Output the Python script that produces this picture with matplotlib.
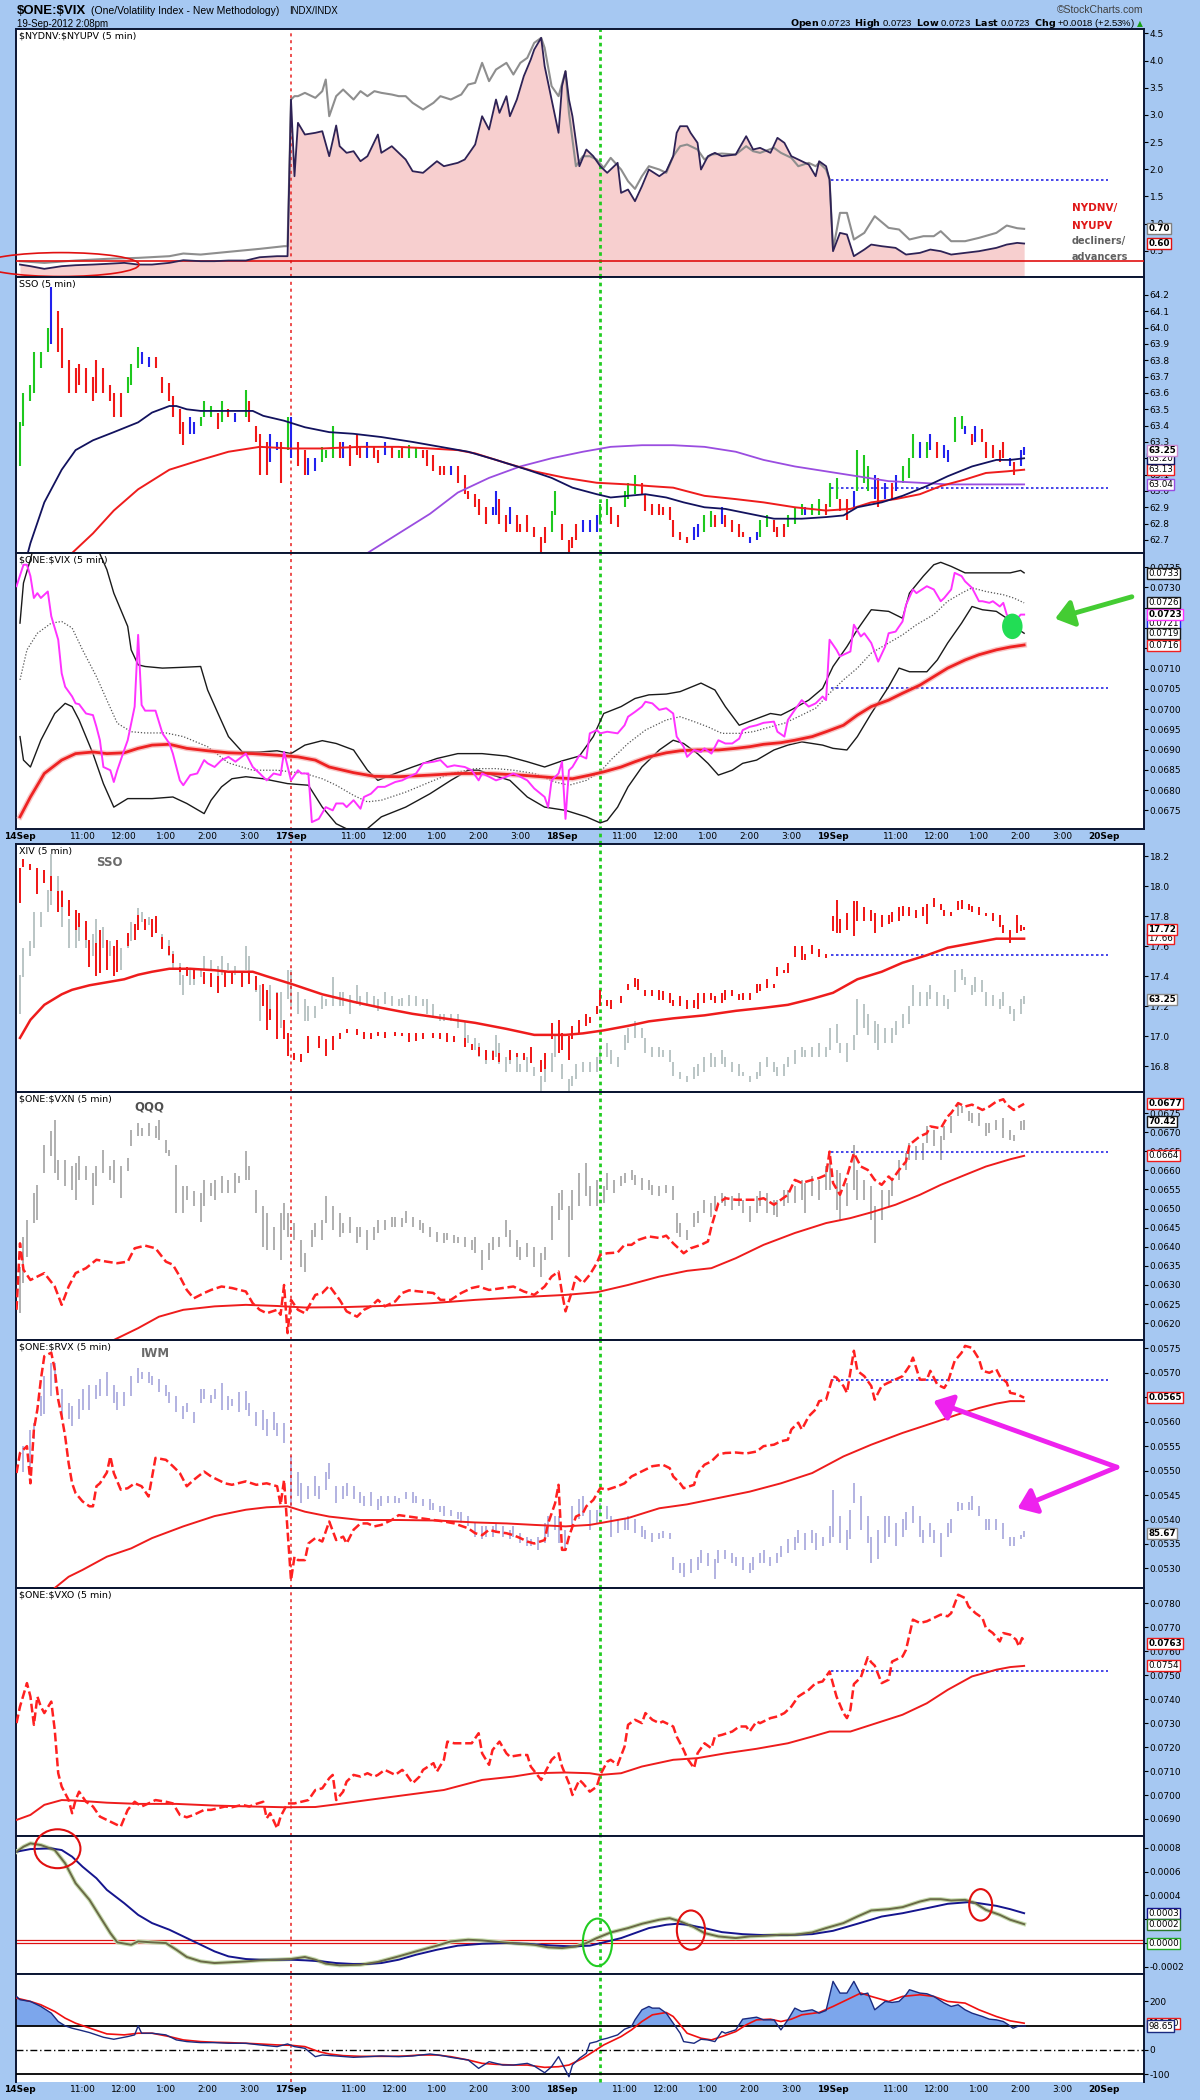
import numpy as np
import matplotlib
matplotlib.use("Agg")
import matplotlib.pyplot as plt
from matplotlib.patches import Ellipse
from matplotlib.ticker import FuncFormatter

plt.rcParams['font.family'] = ['DejaVu Sans']

# ---------------------------------------------------------------- data
# time = 5-minute bar index, 0 = 14-Sep 9:30, 78 bars per session
DAY_LABELS = ['14Sep', '17Sep', '18Sep', '19Sep', '20Sep']
TIME_LABELS = ['11:00', '12:00', '1:00', '2:00', '3:00']
TIME_OFFSETS = [18, 30, 42, 54, 66]
BARS_PER_DAY = 78
RED_MARK_T = 78      # 17-Sep open
GREEN_MARK_T = 167   # 18-Sep ~10:25
REF_START_T = 233.5  # 19-Sep open (blue reference lines)
REF_END_T = 313

# $NYDNV:$NYUPV (dark, filled) and grey overlay
DV_DARK = [(0,0.245),(3,0.215),(7,0.166),(12,0.215),(16,0.233),(21,0.245),(25,0.258),(30,0.276),(34,0.245),(38,0.245),(43,0.276),(47,0.325),(52,0.307),(56,0.307),(60,0.319),(65,0.319),(69,0.380),(74,0.399),(77,0.399),(78,3.282),(79,1.871),(80,2.853),(82,2.638),(85,2.669),(87,2.699),(89,2.239),(91,2.804),(92,2.423),(94,2.301),(96,2.331),(98,2.147),(100,2.239),(103,2.638),(104,2.301),(107,2.423),(109,2.301),(111,2.178),(113,1.963),(116,1.933),(120,2.147),(122,2.055),(126,2.117),(128,2.178),(131,2.454),(133,2.975),(135,2.730),(137,3.282),(138,3.037),(140,3.344),(141,2.975),(143,3.282),(145,3.712),(147,4.018),(148,4.202),(150,4.417),(151,3.896),(153,3.282),(155,2.669),(156,3.528),(157,3.804),(158,3.282),(159,2.975),(161,2.055),(163,2.362),(165,2.239),(167,2.055),(169,1.933),(172,2.117),(173,1.564),(175,1.626),(177,1.411),(179,1.687),(181,1.994),(184,1.871),(186,1.963),(188,2.239),(189,2.669),(190,2.791),(192,2.791),(193,2.669),(195,2.485),(196,1.994),(198,2.239),(200,2.301),(202,2.239),(206,2.270),(209,2.607),(211,2.362),(213,2.393),(216,2.301),(218,2.577),(220,2.485),(222,2.239),(224,2.178),(227,2.086),(229,1.871),(230,2.147),(232,2.055),(233,1.810),(234,0.491),(236,0.828),(238,0.798),(240,0.399),(243,0.521),(245,0.613),(248,0.583),(252,0.552),(255,0.429),(259,0.460),(262,0.521),(265,0.491),(268,0.429),(272,0.460),(276,0.491),(281,0.552),(284,0.613),(287,0.644),(289,0.632)]
DV_GREY = [(0,0.307),(7,0.276),(16,0.319),(25,0.350),(34,0.368),(43,0.399),(47,0.448),(52,0.429),(60,0.479),(69,0.534),(76,0.583),(77,0.583),(78,3.282),(79,3.344),(80,3.344),(82,3.405),(85,3.313),(87,3.436),(88,3.650),(89,2.975),(91,3.344),(93,3.466),(96,3.282),(98,3.436),(100,3.344),(102,3.436),(104,3.405),(107,3.374),(109,3.344),(111,3.344),(113,3.221),(116,3.098),(119,3.221),(121,3.344),(124,3.282),(127,3.374),(129,3.558),(131,3.589),(133,3.957),(135,3.620),(137,3.834),(140,3.957),(142,3.742),(144,3.957),(146,4.049),(148,4.325),(150,4.417),(151,4.233),(153,3.528),(155,3.344),(157,3.804),(158,3.037),(160,2.055),(162,2.239),(164,2.239),(166,2.178),(168,2.025),(170,2.209),(173,1.994),(175,1.779),(177,1.638),(179,1.871),(181,2.055),(184,1.994),(186,1.933),(188,2.239),(190,2.423),(192,2.454),(195,2.362),(197,2.178),(199,2.270),(202,2.288),(206,2.270),(209,2.423),(211,2.331),(213,2.301),(217,2.393),(219,2.301),(222,2.209),(224,2.055),(227,2.117),(229,2.055),(230,2.117),(232,1.994),(233,1.810),(234,0.521),(236,1.196),(238,1.196),(240,0.706),(243,0.828),(246,1.135),(250,0.920),(253,0.890),(256,0.706),(260,0.767),(263,0.767),(265,0.859),(268,0.675),(272,0.675),(276,0.736),(281,0.828),(284,0.963),(287,0.914),(289,0.902)]
DV_REF = 0.313
DV_LEVEL = 1.80

# SSO 5-min bars: (time, high, low, colour code)
SSO = [(0,63.42,63.15,'g'),(1,63.60,63.40,'g'),(3,63.65,63.55,'g'),(4,63.85,63.60,'g'),(6,63.85,63.75,'g'),(8,64.00,63.85,'g'),(9,64.25,63.90,'b'),(11,64.10,63.85,'r'),(12,64.00,63.75,'r'),(14,63.80,63.60,'r'),(16,63.75,63.60,'r'),(17,63.78,63.65,'r'),(19,63.75,63.60,'r'),(21,63.70,63.55,'r'),(22,63.80,63.60,'r'),(24,63.75,63.60,'r'),(26,63.65,63.55,'r'),(27,63.60,63.45,'r'),(29,63.60,63.45,'r'),(31,63.70,63.60,'g'),(32,63.78,63.65,'g'),(34,63.88,63.75,'g'),(35,63.85,63.78,'b'),(37,63.82,63.76,'b'),(39,63.82,63.75,'r'),(41,63.70,63.60,'r'),(43,63.66,63.55,'r'),(44,63.58,63.45,'r'),(46,63.50,63.35,'r'),(47,63.42,63.28,'r'),(49,63.45,63.35,'b'),(50,63.42,63.35,'b'),(52,63.45,63.40,'g'),(53,63.55,63.45,'g'),(55,63.52,63.45,'g'),(57,63.48,63.38,'r'),(58,63.55,63.42,'g'),(60,63.50,63.45,'r'),(62,63.48,63.42,'b'),(65,63.62,63.45,'g'),(66,63.55,63.42,'r'),(68,63.40,63.30,'r'),(69,63.35,63.10,'r'),(71,63.30,63.10,'r'),(72,63.35,63.18,'b'),(74,63.30,63.25,'b'),(75,63.30,63.05,'r'),(77,63.45,63.25,'g'),(78,63.45,63.20,'b'),(80,63.30,63.15,'r'),(82,63.25,63.10,'r'),(83,63.20,63.10,'b'),(85,63.20,63.12,'b'),(87,63.27,63.18,'g'),(88,63.25,63.20,'g'),(90,63.40,63.20,'g'),(92,63.30,63.20,'r'),(93,63.30,63.20,'b'),(95,63.28,63.15,'r'),(97,63.35,63.22,'r'),(98,63.27,63.20,'r'),(100,63.30,63.20,'b'),(102,63.27,63.20,'r'),(103,63.25,63.17,'r'),(105,63.30,63.22,'b'),(107,63.27,63.20,'r'),(109,63.25,63.20,'g'),(110,63.26,63.20,'r'),(112,63.28,63.20,'g'),(114,63.27,63.20,'g'),(116,63.25,63.20,'r'),(117,63.25,63.15,'r'),(119,63.22,63.12,'r'),(121,63.15,63.10,'r'),(122,63.15,63.10,'r'),(124,63.15,63.10,'b'),(126,63.15,63.05,'r'),(128,63.10,62.98,'r'),(129,63.00,62.95,'r'),(131,62.98,62.90,'r'),(132,62.95,62.85,'r'),(134,62.90,62.80,'r'),(136,62.90,62.85,'b'),(137,63.00,62.85,'b'),(138,62.95,62.80,'r'),(140,62.85,62.75,'r'),(141,62.90,62.80,'b'),(143,62.85,62.75,'r'),(144,62.80,62.75,'r'),(146,62.85,62.75,'r'),(148,62.78,62.72,'r'),(150,62.72,62.62,'r'),(151,62.78,62.68,'r'),(153,62.88,62.75,'g'),(154,63.00,62.85,'g'),(156,62.80,62.70,'r'),(158,62.70,62.62,'r'),(159,62.72,62.65,'r'),(160,62.80,62.70,'r'),(162,62.82,62.75,'b'),(164,62.82,62.75,'b'),(166,62.85,62.75,'b'),(167,62.92,62.80,'g'),(169,62.95,62.85,'g'),(170,62.90,62.80,'r'),(172,62.85,62.78,'r'),(174,63.00,62.90,'g'),(175,63.05,62.95,'g'),(177,63.10,62.98,'g'),(179,63.05,62.98,'r'),(180,62.98,62.88,'r'),(182,62.92,62.85,'r'),(184,62.92,62.85,'r'),(185,62.90,62.85,'r'),(187,62.90,62.82,'r'),(188,62.82,62.72,'r'),(190,62.75,62.70,'r'),(192,62.72,62.68,'r'),(194,62.78,62.70,'b'),(195,62.80,62.72,'b'),(197,62.85,62.75,'g'),(199,62.88,62.78,'g'),(200,62.85,62.78,'r'),(202,62.90,62.80,'b'),(203,62.85,62.78,'r'),(205,62.82,62.75,'r'),(207,62.80,62.72,'r'),(208,62.75,62.72,'r'),(210,62.72,62.68,'b'),(212,62.75,62.70,'b'),(213,62.82,62.72,'g'),(215,62.85,62.78,'g'),(217,62.82,62.75,'r'),(218,62.78,62.72,'r'),(220,62.80,62.72,'r'),(221,62.85,62.78,'g'),(223,62.90,62.80,'g'),(225,62.92,62.85,'g'),(226,62.90,62.85,'b'),(228,62.92,62.85,'g'),(230,62.95,62.85,'g'),(232,62.92,62.85,'r'),(233,63.05,62.90,'g'),(235,63.08,62.95,'g'),(236,62.95,62.88,'r'),(238,62.95,62.82,'r'),(240,63.00,62.90,'b'),(241,63.25,63.00,'g'),(243,63.22,63.05,'g'),(244,63.15,63.00,'g'),(246,63.10,62.95,'b'),(247,63.08,62.90,'r'),(249,63.05,62.95,'b'),(251,63.05,62.95,'r'),(252,63.10,63.00,'b'),(254,63.15,63.05,'g'),(256,63.20,63.08,'g'),(257,63.35,63.20,'g'),(259,63.30,63.20,'b'),(261,63.30,63.20,'g'),(262,63.35,63.25,'b'),(264,63.30,63.20,'r'),(266,63.28,63.20,'b'),(267,63.25,63.18,'b'),(269,63.45,63.30,'g'),(271,63.46,63.38,'g'),(272,63.40,63.35,'b'),(274,63.35,63.28,'r'),(275,63.40,63.30,'b'),(277,63.38,63.30,'r'),(278,63.30,63.20,'r'),(280,63.28,63.20,'r'),(282,63.25,63.18,'r'),(283,63.30,63.20,'r'),(285,63.20,63.15,'b'),(286,63.18,63.10,'r'),(288,63.25,63.15,'b'),(289,63.27,63.22,'b')]
SSO_MA_SHORT = [(2,62.60),(3,62.68),(7,62.93),(12,63.13),(16,63.25),(21,63.31),(27,63.36),(34,63.42),(38,63.48),(43,63.52),(45,63.52),(48,63.50),(52,63.49),(56,63.49),(60,63.49),(67,63.49),(70,63.46),(76,63.43),(82,63.39),(89,63.36),(96,63.35),(104,63.33),(113,63.30),(121,63.27),(129,63.24),(137,63.19),(146,63.13),(153,63.08),(159,63.02),(166,62.98),(170,62.96),(175,62.97),(180,62.98),(186,62.96),(191,62.93),(197,62.90),(203,62.89),(210,62.86),(217,62.83),(225,62.83),(232,62.84),(237,62.85),(241,62.90),(248,62.93),(254,62.97),(261,63.03),(267,63.09),(274,63.15),(281,63.19),(285,63.19),(289,63.20)]
SSO_MA_MID = [(15,62.62),(21,62.74),(27,62.88),(34,63.01),(43,63.13),(52,63.19),(60,63.24),(69,63.27),(78,63.26),(87,63.26),(98,63.27),(109,63.27),(118,63.26),(126,63.25),(131,63.23),(140,63.17),(148,63.12),(157,63.08),(166,63.05),(175,63.04),(181,63.03),(188,63.02),(197,62.97),(206,62.95),(214,62.93),(223,62.90),(232,62.88),(239,62.89),(245,62.93),(252,62.95),(259,62.98),(265,63.03),(272,63.07),(278,63.11),(284,63.12),(289,63.13)]
SSO_MA_LONG = [(100,62.62),(109,62.74),(118,62.86),(126,62.99),(135,63.08),(144,63.15),(153,63.20),(162,63.24),(170,63.27),(179,63.28),(188,63.28),(197,63.27),(206,63.24),(214,63.19),(223,63.15),(232,63.12),(241,63.09),(250,63.06),(259,63.05),(267,63.04),(276,63.04),(289,63.04)]
SSO_LEVEL = 63.02

# $ONE:$VIX, values in units of 0.0001
VIX_E4 = [(-1,730.3),(1,735.6),(2,735.6),(3,732.8),(4,727.4),(5,728.6),(6,727.4),(8,729.0),(9,722.9),(11,717.1),(12,708.8),(13,705.5),(15,703.1),(16,701.4),(17,701.2),(19,698.9),(21,698.5),(22,695.6),(23,692.3),(24,685.7),(26,684.9),(27,682.0),(28,684.9),(30,689.9),(31,692.3),(33,700.6),(34,718.3),(35,701.0),(36,699.6),(39,699.6),(41,694.0),(43,691.5),(44,689.0),(46,682.4),(47,681.2),(49,683.7),(51,684.1),(53,687.4),(54,686.6),(56,685.7),(58,687.4),(60,688.2),(62,687.0),(65,689.0),(67,685.7),(69,684.1),(71,682.4),(73,684.1),(75,683.7),(76,689.4),(78,682.4),(80,684.9),(81,684.1),(83,684.1),(84,672.1),(86,672.9),(88,675.8),(90,675.0),(91,676.7),(93,676.7),(94,675.8),(96,677.5),(98,675.4),(99,678.3),(101,679.1),(103,680.8),(105,680.8),(108,682.0),(110,682.4),(112,683.3),(114,684.1),(116,686.6),(119,687.0),(121,687.4),(123,685.7),(125,686.1),(128,685.7),(130,684.9),(132,682.4),(133,684.1),(135,683.3),(137,682.4),(140,683.3),(142,684.1),(144,683.3),(146,682.4),(148,680.4),(151,678.3),(152,675.8),(153,682.4),(155,684.1),(156,687.0),(157,672.9),(158,684.9),(159,685.7),(161,688.6),(163,687.8),(164,694.0),(166,694.8),(167,694.0),(169,694.4),(172,694.0),(174,696.0),(175,698.1),(177,699.3),(179,700.6),(180,701.8),(182,701.4),(184,699.8),(186,700.2),(188,698.9),(189,693.2),(191,690.7),(192,688.2),(194,689.9),(196,689.4),(197,690.3),(199,689.0),(201,692.3),(203,691.5),(205,691.5),(207,692.7),(208,694.8),(210,695.6),(212,696.0),(214,696.6),(217,696.9),(218,694.4),(220,693.2),(221,697.3),(223,699.8),(225,702.2),(227,700.6),(229,701.4),(231,703.1),(232,702.2),(233,717.1),(235,714.6),(236,713.0),(239,714.2),(240,720.8),(242,717.9),(243,718.7),(245,716.3),(247,711.7),(249,715.4),(250,718.7),(252,719.1),(254,721.6),(255,725.7),(257,729.5),(258,728.6),(261,730.3),(263,729.5),(265,726.6),(266,727.4),(268,729.5),(269,733.6),(271,732.8),(272,731.5),(274,729.9),(276,726.6),(277,726.6),(279,726.2),(280,726.6),(282,725.3),(283,726.2),(284,723.3),(286,721.2),(288,723.3),(289,723.3)]
VIX_BB_UP_E4 = [(0,721.2),(1,731.1),(3,736.9),(4,740.2),(7,741.8),(16,741.8),(22,740.2),(25,734.4),(27,728.6),(31,720.4),(32,714.6),(34,710.9),(36,710.5),(41,710.1),(47,710.3),(52,710.5),(54,704.7),(57,698.9),(60,693.2),(64,689.4),(69,689.4),(74,689.7),(78,689.0),(82,691.1),(87,692.2),(91,691.5),(96,689.9),(100,684.9),(103,682.4),(108,684.1),(113,685.7),(120,687.8),(126,689.0),(133,689.0),(140,688.4),(146,687.0),(151,685.7),(156,687.2),(161,688.4),(165,693.2),(168,698.9),(173,700.6),(177,702.6),(181,703.5),(186,703.7),(190,704.3),(194,705.7),(196,706.4),(200,704.7),(203,700.6),(207,696.0),(211,697.3),(216,698.9),(219,698.5),(222,699.8),(227,702.2),(231,705.1),(234,710.5),(238,715.4),(241,719.6),(245,724.5),(250,724.1),(254,722.4),(256,728.6),(260,732.8),(263,735.6),(265,736.2),(268,735.2),(272,733.6),(276,733.6),(281,733.6),(285,733.6),(288,734.2),(289,733.6)]
VIX_BB_LO_E4 = [(0,693.2),(1,687.4),(3,685.7),(6,692.3),(10,698.9),(13,701.4),(15,700.6),(17,697.3),(21,689.0),(24,681.6),(27,675.8),(31,677.9),(34,677.9),(38,677.9),(44,678.3),(48,676.7),(53,674.2),(55,677.5),(58,680.8),(61,682.8),(65,683.3),(70,682.8),(77,681.6),(83,681.2),(87,675.8),(91,671.7),(96,669.6),(100,670.5),(104,673.4),(111,675.8),(118,679.1),(124,682.4),(129,684.9),(132,684.9),(136,683.7),(141,682.4),(146,678.3),(151,675.8),(157,675.0),(163,673.4),(167,671.9),(169,672.5),(172,675.8),(175,680.8),(179,685.7),(184,689.9),(188,692.3),(191,691.5),(195,689.0),(198,686.6),(201,683.7),(205,684.9),(208,686.6),(212,687.4),(217,689.9),(221,691.1),(225,691.9),(231,691.1),(234,690.3),(238,689.9),(241,693.2),(245,698.9),(250,705.5),(253,710.1),(256,709.2),(261,709.2),(264,712.1),(267,716.3),(271,721.2),(274,725.3),(277,724.5),(281,724.1),(284,722.4),(286,720.4),(289,718.7)]
VIX_BB_MID_E4 = [(0,707.2),(2,714.6),(5,718.7),(9,721.2),(12,721.6),(15,720.0),(18,714.6),(22,708.0),(25,702.2),(28,696.5),(32,694.4),(36,694.1),(42,694.1),(47,693.2),(54,690.7),(60,686.7),(67,684.9),(74,684.9),(78,684.5),(82,684.1),(87,682.8),(91,681.2),(96,678.7),(100,677.1),(104,677.5),(111,679.5),(118,682.0),(124,684.1),(131,685.3),(137,685.3),(142,684.9),(148,684.1),(154,682.0),(158,681.2),(163,682.4),(167,684.5),(170,687.4),(175,691.5),(180,694.8),(186,697.3),(190,698.1),(194,696.9),(198,695.6),(202,694.0),(207,694.0),(211,694.4),(216,695.6),(220,696.5),(224,698.1),(229,700.2),(233,703.9),(237,707.2),(241,710.1),(245,713.8),(250,716.3),(254,718.3),(258,720.8),(263,723.3),(267,726.6),(271,728.6),(274,729.9),(278,729.0),(283,728.2),(286,727.4),(289,726.2)]
VIX_MA_E4 = [(0,673.4),(3,678.3),(7,684.1),(12,687.4),(16,689.0),(21,689.4),(25,689.0),(30,689.2),(34,690.3),(38,691.1),(43,691.3),(48,690.3),(54,689.7),(60,689.2),(67,689.0),(74,688.6),(80,688.2),(85,687.4),(89,685.7),(96,684.3),(102,683.4),(109,683.3),(118,683.7),(126,684.1),(135,684.1),(144,683.7),(153,683.1),(159,682.8),(164,683.7),(168,684.5),(173,685.7),(177,687.0),(181,688.2),(186,689.2),(190,689.7),(195,689.9),(201,689.9),(206,690.3),(210,690.7),(214,691.3),(219,691.7),(223,692.3),(228,693.2),(232,694.4),(237,696.0),(241,698.5),(245,700.6),(250,702.2),(254,703.9),(259,705.9),(263,708.0),(267,710.1),(272,712.1),(276,713.4),(281,714.6),(285,715.3),(289,715.8)]
VIX_LEVEL = 0.07052

# XIV 5-min bars (time, high, low)
XIV = [(0,18.12,17.89),(1,18.18,18.13),(3,18.15,18.11),(5,18.12,17.95),(7,18.11,18.02),(9,18.07,17.97),(11,17.97,17.83),(12,17.97,17.86),(14,17.91,17.80),(16,17.84,17.71),(17,17.82,17.73),(19,17.77,17.64),(20,17.64,17.46),(22,17.62,17.40),(23,17.71,17.42),(25,17.64,17.44),(27,17.60,17.40),(28,17.64,17.43),(31,17.69,17.60),(33,17.75,17.64),(34,17.81,17.71),(36,17.78,17.71),(38,17.78,17.66),(39,17.80,17.69),(41,17.66,17.58),(43,17.60,17.54),(44,17.55,17.49),(46,17.46,17.43),(48,17.46,17.40),(50,17.44,17.38),(53,17.43,17.35),(55,17.42,17.33),(57,17.40,17.29),(59,17.43,17.33),(61,17.42,17.35),(64,17.43,17.33),(66,17.43,17.35),(68,17.40,17.31),(70,17.35,17.20),(71,17.31,17.04),(72,17.18,17.11),(74,17.29,16.98),(76,17.11,16.98),(77,17.02,16.87),(79,16.89,16.84),(81,16.88,16.83),(83,17.00,16.89),(86,17.00,16.92),(88,16.98,16.87),(90,17.00,16.91),(92,17.02,16.98),(94,17.05,17.02),(97,17.05,17.01),(99,17.03,16.98),(101,17.02,16.98),(103,17.03,17.00),(105,17.03,16.99),(108,17.03,17.00),(110,17.02,17.00),(112,17.02,16.96),(114,17.02,16.97),(116,17.02,16.98),(119,17.02,16.99),(121,17.02,16.98),(123,17.02,16.96),(125,17.00,16.96),(128,16.99,16.93),(130,16.95,16.91),(132,16.93,16.87),(134,16.91,16.84),(136,16.90,16.84),(138,16.89,16.83),(141,16.91,16.84),(143,16.89,16.86),(145,16.89,16.84),(147,16.93,16.82),(150,16.84,16.76),(151,16.89,16.78),(153,17.09,16.98),(155,17.11,16.89),(156,17.02,16.91),(158,17.00,16.84),(159,17.07,16.98),(161,17.11,17.02),(163,17.15,17.07),(164,17.13,17.09),(166,17.20,17.15),(167,17.31,17.20),(169,17.24,17.20),(170,17.24,17.18),(173,17.27,17.22),(175,17.35,17.31),(177,17.39,17.33),(178,17.38,17.31),(180,17.31,17.27),(182,17.31,17.27),(184,17.31,17.24),(185,17.30,17.24),(187,17.29,17.22),(188,17.24,17.20),(190,17.27,17.20),(192,17.24,17.18),(194,17.24,17.19),(195,17.29,17.18),(197,17.29,17.22),(199,17.29,17.24),(200,17.27,17.22),(202,17.29,17.22),(203,17.31,17.24),(205,17.31,17.27),(207,17.28,17.24),(208,17.29,17.24),(210,17.29,17.24),(212,17.35,17.29),(213,17.35,17.30),(215,17.38,17.32),(217,17.35,17.32),(218,17.46,17.40),(220,17.44,17.42),(221,17.49,17.42),(223,17.60,17.53),(225,17.60,17.51),(226,17.55,17.51),(228,17.61,17.55),(230,17.58,17.53),(232,17.55,17.52),(234,17.80,17.70),(235,17.91,17.69),(236,17.78,17.69),(238,17.82,17.71),(240,17.90,17.67),(241,17.90,17.77),(243,17.86,17.77),(245,17.84,17.77),(246,17.82,17.69),(248,17.81,17.73),(250,17.81,17.75),(251,17.83,17.76),(253,17.86,17.77),(254,17.87,17.80),(256,17.86,17.80),(258,17.84,17.79),(260,17.86,17.80),(261,17.88,17.75),(263,17.92,17.86),(265,17.88,17.84),(266,17.84,17.80),(268,17.83,17.80),(270,17.90,17.84),(271,17.91,17.85),(273,17.88,17.84),(274,17.87,17.83),(276,17.86,17.81),(278,17.82,17.80),(280,17.82,17.77),(282,17.81,17.73),(283,17.74,17.69),(285,17.71,17.62),(287,17.81,17.69),(288,17.74,17.70),(289,17.73,17.71)]
XIV_MA = [(0,16.99),(3,17.11),(7,17.21),(12,17.28),(15,17.31),(20,17.34),(25,17.36),(30,17.38),(34,17.41),(38,17.43),(43,17.45),(49,17.45),(56,17.44),(60,17.43),(67,17.43),(71,17.40),(78,17.35),(87,17.28),(96,17.23),(104,17.19),(113,17.15),(122,17.12),(131,17.09),(140,17.05),(148,17.01),(157,17.01),(162,17.02),(168,17.04),(175,17.07),(181,17.10),(188,17.12),(197,17.14),(206,17.17),(214,17.19),(221,17.21),(228,17.25),(234,17.29),(241,17.38),(248,17.43),(254,17.49),(261,17.54),(267,17.59),(274,17.62),(281,17.65),(285,17.65),(289,17.65)]
XIV_LEVEL = 17.54

# $ONE:$VXN (units of 0.0001) and QQQ overlay bars
VXN_E4 = [(-1,623.5),(0,640.9),(1,634.0),(3,631.3),(5,632.2),(7,633.1),(10,629.6),(12,624.8),(14,629.6),(16,633.1),(19,634.4),(22,636.6),(25,636.1),(28,635.7),(31,636.1),(33,639.6),(36,640.3),(39,639.6),(42,636.1),(44,635.3),(46,632.2),(48,628.7),(50,626.5),(53,627.9),(55,628.7),(58,629.6),(61,629.2),(65,628.3),(67,625.2),(69,623.5),(71,622.6),(74,623.5),(75,622.2),(76,630.0),(77,617.4),(78,626.1),(80,623.5),(82,622.6),(85,627.4),(87,627.9),(89,629.8),(92,626.1),(94,623.1),(97,621.7),(99,623.5),(101,624.4),(103,626.1),(105,624.4),(108,625.7),(110,627.9),(112,628.6),(115,628.3),(119,627.9),(121,626.1),(124,626.1),(127,627.9),(130,629.2),(132,629.6),(135,628.7),(139,629.2),(142,629.6),(145,628.3),(148,627.4),(151,629.6),(153,632.2),(155,633.5),(156,627.9),(157,623.1),(159,628.7),(160,632.2),(162,630.5),(164,632.7),(166,635.7),(167,637.9),(169,638.3),(172,638.5),(174,640.5),(176,640.5),(178,641.8),(181,642.7),(184,642.3),(186,642.9),(188,640.9),(190,639.2),(191,638.3),(193,639.6),(196,640.5),(198,641.4),(199,645.3),(201,651.4),(203,652.7),(206,652.3),(209,652.3),(212,652.3),(214,652.7),(217,651.0),(219,652.3),(221,653.6),(223,657.5),(225,656.7),(228,657.5),(230,658.0),(232,658.8),(233,664.9),(234,656.7),(236,653.6),(238,658.4),(240,664.5),(242,661.0),(244,660.1),(246,657.5),(248,656.2),(250,658.4),(251,657.5),(253,660.1),(255,662.3),(256,666.7),(259,668.9),(261,669.7),(262,671.5),(265,671.0),(267,674.1),(268,675.0),(270,677.6),(272,676.7),(274,677.2),(277,675.8),(279,676.7),(281,678.0),(283,678.6),(284,677.2),(286,675.8),(288,676.9),(289,677.4)]
VXN_MA_E4 = [(27,615.6),(34,618.7),(40,621.7),(47,623.5),(56,624.4),(65,624.8),(74,624.5),(82,624.1),(93,624.2),(104,624.5),(118,625.2),(131,626.1),(144,626.8),(157,627.4),(166,628.1),(175,630.0),(184,632.2),(192,633.7),(199,634.4),(206,637.0),(214,640.5),(223,643.6),(232,646.2),(239,647.5),(245,649.0),(252,651.0),(259,653.6),(265,656.2),(272,658.8),(278,661.0),(285,662.9),(289,663.8)]
VXN_LEVEL = 0.06649
QQQ = [(0,69.55,69.27),(1,69.73,69.45),(2,69.83,69.61),(4,69.99,69.81),(5,70.04,69.83),(7,70.28,70.11),(9,70.36,70.21),(10,70.43,70.11),(11,70.19,70.07),(13,70.19,70.03),(15,70.15,70.01),(16,70.17,69.95),(17,70.21,70.07),(19,70.15,70.07),(21,70.11,69.92),(22,70.15,70.03),(24,70.25,70.11),(26,70.15,70.07),(27,70.19,70.05),(29,70.15,69.96),(31,70.20,70.12),(32,70.37,70.27),(34,70.41,70.33),(35,70.38,70.33),(37,70.41,70.33),(39,70.39,70.32),(40,70.43,70.31),(42,70.31,70.23),(43,70.25,70.21),(45,70.16,69.87),(47,70.03,69.87),(48,70.03,69.95),(50,70.00,69.91),(52,69.99,69.82),(53,70.07,69.91),(55,70.05,69.97),(56,70.07,69.95),(58,70.09,69.99),(60,70.07,69.99),(62,70.11,69.99),(63,70.09,70.05),(65,70.24,70.07),(66,70.15,70.07),(68,70.01,69.87),(70,69.91,69.67),(71,69.87,69.65),(73,69.79,69.65),(75,69.87,69.59),(76,69.93,69.77),(77,69.87,69.73),(79,69.81,69.71),(81,69.71,69.55),(82,69.63,69.52),(84,69.77,69.67),(85,69.81,69.73),(87,69.83,69.71),(88,69.97,69.81),(90,69.91,69.77),(92,69.87,69.73),(93,69.81,69.75),(95,69.85,69.75),(97,69.79,69.69),(98,69.79,69.73),(100,69.77,69.65),(102,69.79,69.71),(103,69.83,69.75),(105,69.83,69.77),(107,69.85,69.79),(108,69.85,69.79),(110,69.84,69.79),(111,69.88,69.81),(113,69.85,69.79),(115,69.83,69.77),(116,69.81,69.75),(118,69.79,69.73),(120,69.76,69.70),(122,69.75,69.69),(123,69.75,69.71),(125,69.74,69.69),(126,69.73,69.69),(128,69.73,69.67),(130,69.71,69.65),(131,69.73,69.63),(133,69.65,69.53),(135,69.69,69.59),(136,69.73,69.65),(138,69.73,69.67),(140,69.83,69.73),(141,69.77,69.67),(143,69.71,69.61),(144,69.67,69.59),(146,69.69,69.61),(148,69.67,69.55),(150,69.63,69.49),(151,69.67,69.59),(153,69.91,69.71),(155,69.99,69.83),(156,70.01,69.89),(158,69.91,69.61),(159,70.01,69.83),(161,70.11,69.91),(163,70.17,69.97),(164,70.03,69.91),(166,70.07,69.91),(168,70.03,69.93),(169,70.11,70.01),(171,70.07,69.99),(173,70.09,70.03),(174,70.11,70.05),(176,70.13,70.07),(177,70.10,70.04),(179,70.08,70.01),(181,70.07,70.01),(182,70.04,69.98),(184,70.03,69.97),(186,70.04,69.99),(188,70.03,69.95),(189,69.87,69.75),(190,69.81,69.73),(192,69.77,69.71),(194,69.87,69.79),(195,69.88,69.81),(197,69.95,69.87),(199,69.93,69.85),(200,69.97,69.89),(202,69.99,69.93),(203,69.97,69.91),(205,69.97,69.89),(207,69.99,69.91),(208,69.95,69.87),(210,69.91,69.82),(212,69.97,69.87),(213,70.00,69.91),(215,69.99,69.87),(217,69.95,69.86),(218,69.95,69.85),(220,70.01,69.91),(221,70.01,69.93),(223,70.03,69.93),(225,70.07,69.95),(226,70.05,69.87),(228,70.09,69.97),(230,70.07,69.95),(232,70.15,70.01),(233,70.21,70.01),(235,70.13,69.89),(236,70.11,69.83),(238,70.05,69.91),(240,70.28,70.01),(241,70.13,69.95),(243,70.07,69.95),(245,70.03,69.83),(246,69.91,69.69),(248,70.01,69.83),(250,70.01,69.91),(251,70.07,69.97),(253,70.19,70.07),(255,70.23,70.13),(256,70.29,70.19),(258,70.27,70.19),(260,70.29,70.19),(261,70.39,70.29),(263,70.37,70.27),(265,70.33,70.19),(266,70.39,70.31),(268,70.45,70.35),(270,70.53,70.45),(271,70.51,70.47),(273,70.48,70.42),(274,70.47,70.41),(276,70.47,70.39),(278,70.41,70.33),(279,70.41,70.35),(281,70.43,70.37),(283,70.44,70.32),(285,70.37,70.31),(286,70.34,70.30),(288,70.42,70.37),(289,70.43,70.37)]

# $ONE:$RVX (units of 0.0001) and IWM overlay bars
RVX_E4 = [(-1,549.5),(0,553.6),(2,555.0),(3,547.4),(4,558.4),(5,562.5),(6,568.6),(7,573.4),(9,574.1),(10,570.7),(11,564.5),(12,561.1),(13,557.0),(14,551.5),(15,547.4),(16,545.4),(18,543.7),(20,542.7),(21,542.7),(22,546.8),(23,547.4),(25,549.6),(26,552.9),(27,549.5),(29,546.1),(31,546.4),(33,547.4),(35,546.8),(37,544.7),(39,552.6),(42,552.2),(44,550.9),(46,549.5),(48,546.8),(50,548.1),(53,549.8),(55,548.8),(57,548.1),(59,547.4),(61,547.1),(65,547.8),(68,547.1),(71,547.4),(74,546.8),(75,543.0),(76,548.1),(78,527.6),(79,532.4),(80,531.7),(82,531.7),(83,535.1),(85,536.2),(87,535.5),(89,539.6),(91,535.8),(93,536.5),(94,535.1),(96,537.9),(98,539.2),(100,539.2),(102,538.6),(104,538.9),(107,539.9),(109,540.9),(112,540.6),(115,540.3),(119,539.9),(122,539.6),(125,539.2),(129,538.2),(131,537.2),(133,536.8),(135,537.9),(137,537.5),(140,537.2),(142,536.8),(144,536.2),(146,535.5),(148,535.1),(151,535.8),(152,539.2),(154,543.3),(155,547.1),(156,533.8),(157,533.8),(158,536.5),(160,540.6),(162,541.3),(163,542.7),(165,544.0),(167,546.4),(169,546.1),(172,546.8),(174,547.4),(176,548.8),(178,549.5),(180,550.2),(182,550.9),(185,551.2),(187,550.5),(188,548.8),(190,547.4),(191,546.4),(194,547.1),(195,549.5),(197,551.2),(199,551.9),(201,553.3),(203,553.6),(206,553.7),(209,553.5),(212,553.9),(214,555.0),(217,555.3),(219,556.0),(221,556.3),(222,558.4),(224,559.8),(225,558.4),(227,561.1),(229,562.5),(230,564.2),(232,564.5),(234,569.3),(235,569.0),(237,567.3),(238,565.9),(240,574.5),(241,570.4),(243,569.3),(245,567.3),(246,564.5),(248,567.3),(250,568.0),(251,568.3),(254,569.3),(256,571.4),(257,573.1),(259,568.6),(261,568.6),(262,570.4),(264,567.6),(266,566.9),(267,568.0),(269,572.4),(271,574.1),(272,575.5),(274,575.1),(276,572.8),(277,570.4),(279,570.0),(281,570.7),(282,569.3),(284,568.0),(285,565.9),(287,565.6),(289,564.9)]
RVX_MA_E4 = [(10,526.0),(14,528.3),(18,529.7),(25,532.4),(32,534.1),(38,536.2),(47,538.6),(56,540.7),(65,542.0),(71,542.5),(77,542.7),(82,541.6),(89,540.6),(98,539.9),(109,539.9),(120,539.8),(131,539.4),(140,539.2),(148,538.9),(157,538.6),(164,538.9),(168,539.4),(175,540.3),(184,542.3),(192,543.1),(201,544.4),(210,545.7),(219,547.4),(228,549.5),(237,552.9),(245,555.3),(254,557.7),(263,559.8),(270,561.5),(276,562.8),(281,563.7),(285,564.2),(289,564.2)]
RVX_LEVEL = 0.05686
IWM = [(1,86.33,86.13),(3,86.45,86.15),(4,86.50,86.38),(6,86.70,86.55),(7,86.85,86.57),(9,86.95,86.70),(10,86.95,86.80),(12,86.75,86.55),(14,86.65,86.53),(15,86.63,86.48),(17,86.68,86.53),(18,86.75,86.60),(20,86.78,86.60),(22,86.78,86.68),(23,86.83,86.70),(25,86.88,86.70),(27,86.78,86.65),(28,86.73,86.60),(30,86.73,86.63),(32,86.85,86.70),(34,86.91,86.80),(35,86.88,86.83),(37,86.88,86.80),(38,86.85,86.78),(40,86.83,86.73),(42,86.78,86.70),(43,86.73,86.65),(45,86.70,86.58),(47,86.63,86.53),(48,86.65,86.58),(50,86.58,86.50),(52,86.75,86.65),(53,86.75,86.68),(55,86.71,86.65),(56,86.75,86.68),(58,86.80,86.60),(60,86.70,86.60),(61,86.68,86.63),(63,86.73,86.58),(65,86.74,86.60),(66,86.65,86.55),(68,86.58,86.48),(70,86.60,86.45),(71,86.53,86.40),(73,86.58,86.45),(74,86.50,86.40),(76,86.50,86.35),(78,86.25,85.88),(80,86.13,85.95),(81,86.05,85.90),(83,86.03,85.93),(85,86.10,85.95),(86,86.03,85.93),(88,86.13,86.00),(89,86.20,86.08),(91,86.03,85.90),(93,86.03,85.93),(94,86.05,85.95),(96,86.03,85.93),(98,85.98,85.90),(99,85.95,85.88),(101,85.98,85.88),(103,85.93,85.85),(104,85.95,85.88),(106,85.95,85.90),(108,85.95,85.90),(109,85.94,85.90),(111,85.98,85.93),(113,85.98,85.90),(114,85.95,85.90),(116,85.93,85.88),(118,85.93,85.85),(119,85.90,85.85),(121,85.88,85.83),(122,85.88,85.80),(124,85.85,85.80),(126,85.83,85.78),(127,85.83,85.75),(129,85.80,85.73),(131,85.75,85.65),(133,85.73,85.63),(134,85.73,85.65),(136,85.73,85.65),(137,85.75,85.68),(139,85.73,85.65),(141,85.70,85.63),(142,85.73,85.65),(144,85.68,85.60),(146,85.65,85.58),(147,85.63,85.58),(149,85.65,85.55),(151,85.75,85.60),(152,85.80,85.65),(154,85.80,85.70),(155,85.80,85.60),(157,85.70,85.55),(159,85.88,85.70),(161,85.93,85.78),(162,85.95,85.80),(164,85.85,85.70),(166,85.85,85.75),(167,85.90,85.80),(169,85.88,85.78),(170,85.80,85.65),(172,85.78,85.68),(174,85.78,85.70),(175,85.80,85.70),(177,85.78,85.68),(179,85.73,85.65),(180,85.70,85.63),(182,85.68,85.61),(184,85.68,85.63),(185,85.69,85.64),(187,85.68,85.63),(188,85.50,85.40),(190,85.45,85.38),(191,85.45,85.35),(193,85.48,85.38),(195,85.50,85.40),(196,85.55,85.45),(198,85.53,85.43),(200,85.48,85.33),(201,85.55,85.45),(203,85.55,85.48),(205,85.53,85.45),(206,85.50,85.43),(208,85.50,85.40),(210,85.45,85.38),(211,85.50,85.40),(213,85.53,85.45),(214,85.55,85.45),(216,85.50,85.43),(218,85.53,85.45),(219,85.58,85.50),(221,85.63,85.53),(223,85.65,85.55),(224,85.70,85.60),(226,85.68,85.55),(228,85.70,85.60),(229,85.68,85.55),(231,85.65,85.58),(233,85.73,85.60),(234,86.00,85.65),(236,85.80,85.60),(238,85.70,85.55),(239,85.85,85.63),(240,86.05,85.90),(242,85.95,85.70),(244,85.80,85.60),(245,85.65,85.45),(247,85.70,85.48),(249,85.80,85.60),(250,85.80,85.65),(252,85.75,85.58),(254,85.78,85.65),(255,85.83,85.70),(257,85.88,85.75),(259,85.80,85.65),(260,85.70,85.60),(262,85.75,85.65),(263,85.70,85.60),(265,85.68,85.50),(267,85.75,85.65),(268,85.78,85.68),(270,85.91,85.84),(271,85.90,85.85),(273,85.91,85.85),(274,85.95,85.85),(276,85.88,85.80),(278,85.78,85.70),(279,85.78,85.70),(281,85.78,85.70),(283,85.75,85.63),(285,85.65,85.58),(286,85.65,85.58),(288,85.66,85.63),(289,85.69,85.65)]

# $ONE:$VXO (units of 0.0001)
VXO_E4 = [(-1,730.0),(0,736.9),(2,746.7),(3,741.1),(4,729.3),(5,741.1),(6,736.9),(7,734.2),(9,739.0),(10,727.2),(11,709.1),(12,703.5),(14,697.9),(15,692.4),(16,697.9),(17,701.4),(19,697.2),(21,695.2),(23,691.0),(25,689.6),(27,688.2),(29,686.8),(31,693.8),(33,697.2),(35,695.2),(37,696.5),(39,697.9),(42,697.2),(44,696.5),(46,691.7),(48,690.7),(50,691.7),(53,693.8),(55,693.8),(57,694.5),(59,695.2),(61,694.9),(64,695.9),(66,695.2),(68,696.3),(70,697.2),(71,690.3),(72,692.4),(74,686.1),(75,691.0),(77,696.5),(79,696.5),(81,697.2),(83,697.9),(85,702.1),(87,702.8),(89,707.0),(90,708.4),(91,697.9),(93,701.4),(94,705.6),(96,708.4),(98,707.7),(100,709.1),(102,707.7),(103,708.4),(105,710.5),(108,708.4),(110,710.5),(111,709.1),(113,704.9),(115,707.7),(116,710.5),(119,713.3),(120,709.8),(122,714.7),(123,722.3),(125,721.6),(128,721.6),(130,721.6),(132,725.8),(133,717.4),(135,712.6),(136,718.8),(138,722.3),(140,717.4),(141,716.0),(144,716.7),(146,716.7),(147,711.9),(150,706.3),(151,709.1),(153,714.7),(155,717.4),(156,711.9),(158,704.9),(159,700.0),(161,706.3),(162,704.9),(164,701.4),(166,703.5),(167,708.4),(169,713.9),(170,714.7),(172,712.6),(174,720.2),(175,729.3),(177,731.4),(179,730.0),(180,734.2),(182,731.4),(184,730.0),(185,730.7),(188,728.6),(189,724.4),(191,718.8),(192,715.4),(194,711.2),(195,717.4),(197,721.6),(199,719.5),(200,724.4),(202,725.1),(205,726.5),(207,728.6),(209,728.6),(210,726.5),(212,730.7),(213,730.0),(216,732.1),(218,732.8),(220,734.2),(222,736.9),(224,741.1),(227,743.9),(229,746.7),(231,747.4),(233,751.6),(235,741.1),(237,734.2),(238,732.1),(239,735.6),(240,746.3),(242,749.1),(244,757.5),(245,755.4),(246,754.0),(248,746.7),(250,748.1),(251,755.7),(254,757.8),(255,760.6),(257,773.2),(259,771.8),(261,772.5),(263,773.9),(265,775.3),(267,774.6),(268,775.9),(270,783.6),(272,782.2),(273,778.7),(275,775.9),(277,773.9),(278,769.7),(280,767.6),(282,764.1),(283,767.6),(285,766.9),(286.7,764.8),(287.5,762.0),(288.4,765.5),(289.3,763.4)]
VXO_MA_E4 = [(-1,689.6),(3,691.7),(7,695.9),(12,697.9),(16,697.7),(25,696.8),(34,696.3),(45,696.3),(56,695.6),(67,695.2),(76,694.9),(85,695.0),(91,696.1),(100,697.9),(111,700.0),(122,702.1),(133,706.3),(142,707.7),(148,709.1),(157,709.4),(164,709.1),(167,708.4),(173,709.1),(179,711.9),(188,714.7),(195,715.4),(203,717.4),(212,719.3),(221,721.6),(228,724.4),(233,726.5),(239,726.5),(245,729.3),(254,733.5),(261,738.3),(267,743.9),(274,749.5),(281,752.3),(285,753.4),(289,753.9)]
VXO_LEVEL = 0.07518

# oscillator pair (units of 0.0001)
OSC_FAST_E4 = [(-1,7.68),(1,8.10),(3,8.38),(6,8.24),(10,7.82),(13,6.70),(16,5.03),(20,3.63),(23,2.23),(26,0.84),(28,0.06),(32,-0.14),(34,0.14),(38,0.06),(42,0.0),(45,-0.56),(48,-1.17),(52,-1.54),(56,-1.68),(60,-1.62),(65,-1.54),(69,-1.45),(74,-1.40),(78,-1.34),(82,-1.17),(85,-1.40),(88,-1.73),(92,-1.87),(98,-1.82),(103,-1.59),(109,-1.12),(114,-0.70),(120,-0.22),(124,0.14),(129,0.28),(133,0.22),(139,0.06),(144,-0.06),(148,-0.14),(152,-0.36),(156,-0.42),(160,-0.28),(163,0.0),(166,0.42),(170,0.89),(175,1.26),(179,1.62),(184,1.96),(187,2.09),(190,1.82),(194,1.34),(197,0.84),(201,0.56),(206,0.42),(210,0.56),(214,0.61),(219,0.70),(223,0.70),(228,0.89),(232,1.26),(237,1.68),(241,2.23),(245,2.74),(250,2.85),(254,3.02),(259,3.49),(262,3.69),(265,3.69),(268,3.58),(272,3.63),(275,3.35),(278,2.79),(282,2.37),(285,1.96),(289,1.59)]
OSC_SLOW_E4 = [(-1,7.68),(3,7.90),(9,7.96),(12,7.82),(15,7.26),(18,6.42),(22,5.45),(25,4.47),(30,3.35),(34,2.37),(38,1.68),(43,1.12),(47,0.56),(52,-0.14),(56,-0.70),(60,-1.12),(65,-1.34),(69,-1.40),(74,-1.40),(78,-1.40),(82,-1.45),(87,-1.54),(91,-1.68),(96,-1.76),(100,-1.76),(104,-1.68),(109,-1.40),(114,-0.98),(120,-0.56),(126,-0.22),(133,-0.06),(140,0.0),(146,-0.06),(153,-0.20),(159,-0.28),(164,-0.22),(168,0.06),(173,0.42),(177,0.84),(181,1.26),(186,1.54),(189,1.62),(192,1.54),(197,1.26),(202,0.92),(208,0.75),(214,0.67),(221,0.67),(228,0.75),(234,1.03),(241,1.62),(248,2.23),(254,2.51),(261,2.93),(267,3.30),(273,3.44),(276,3.35),(281,3.13),(285,2.85),(289,2.51)]

# bottom momentum line and its signal
MOM = [(-1,220.6),(0,206.9),(3,200.0),(6,179.3),(9,151.7),(11,117.2),(13,99.3),(15,89.6),(17,82.7),(20,71.7),(22,62.1),(24,52.4),(27,44.1),(31,55.2),(33,62.1),(34,99.3),(35,69.0),(38,69.0),(42,62.1),(45,41.4),(48,34.5),(52,30.3),(56,30.3),(60,27.6),(65,27.6),(69,20.7),(74,13.8),(77,24.8),(79,13.8),(82,6.9),(85,-27.6),(87,-20.7),(91,-24.8),(96,-30.3),(100,-27.6),(104,-24.8),(109,-27.6),(113,-24.8),(118,-16.5),(121,-22.1),(124,-30.3),(129,-41.4),(132,-75.8),(135,-48.3),(139,-62.1),(142,-62.1),(146,-55.2),(148,-66.2),(151,-93.8),(153,-69.0),(155,-27.6),(157,-82.7),(158,-110.3),(159,-62.1),(161,-34.5),(163,-13.8),(164,27.6),(166,34.5),(167,41.4),(169,48.3),(172,62.1),(174,85.5),(176,96.5),(177,124.1),(179,165.5),(181,179.3),(182,172.4),(184,172.4),(186,151.7),(188,110.3),(190,69.0),(191,34.5),(194,27.6),(196,44.1),(198,41.4),(200,34.5),(202,75.8),(203,69.0),(206,82.7),(208,126.9),(210,131.0),(212,135.1),(214,124.1),(217,124.1),(219,82.7),(221,124.1),(223,172.4),(225,158.6),(228,165.5),(230,151.7),(232,162.7),(234,282.7),(236,234.4),(238,234.4),(240,282.7),(242,227.5),(244,234.4),(246,165.5),(249,200.0),(251,195.8),(253,200.0),(255,227.5),(256,248.2),(259,234.4),(261,231.7),(263,220.6),(266,193.1),(268,179.3),(270,186.2),(272,165.5),(274,151.7),(277,137.9),(279,126.9),(281,124.1),(283,117.2),(284.5,103.4),(285.8,89.6),(287.5,99.3),(289.3,98.7)]
MOM_SIG = [(-1,213.8),(3,200.0),(6,186.2),(10,158.6),(13,131.0),(16,110.3),(21,85.5),(25,66.2),(30,62.1),(34,69.0),(38,69.0),(43,55.2),(47,41.4),(52,34.5),(56,31.7),(60,30.3),(65,27.6),(69,24.8),(74,20.7),(78,19.3),(82,13.8),(86,-6.9),(89,-16.5),(93,-23.4),(98,-26.2),(102,-26.2),(107,-26.2),(111,-24.8),(115,-20.7),(120,-20.7),(124,-27.6),(129,-41.4),(133,-55.2),(137,-59.3),(142,-62.1),(146,-62.1),(151,-71.7),(155,-69.0),(158,-62.1),(162,-34.5),(165,-6.9),(168,20.7),(173,55.2),(176,82.7),(179,117.2),(182,144.8),(186,154.4),(188,137.9),(190,103.4),(192,69.0),(196,48.3),(199,41.4),(202,55.2),(206,75.8),(209,103.4),(212,124.1),(216,126.9),(219,117.2),(222,126.9),(225,144.8),(230,154.4),(234,179.3),(239,213.8),(242,234.4),(245,220.6),(250,200.0),(254,220.6),(259,227.5),(263,220.6),(267,200.0),(272,193.1),(276,165.5),(281,137.9),(285,120.0),(289,110.3)]

# ---------------------------------------------------------------- helpers
W, H = 1200, 2100
L_PX, R_PX = 16, 1144
XMIN, XMAX = -1.15, 323.5
BG = '#a6c8f2'
SPINE = '#0b1633'
PANELS = [(29, 277), (277, 553), (553, 829), (844, 1092), (1092, 1340),
          (1340, 1588), (1588, 1836), (1836, 1974), (1974, 2082)]
REF_BLUE = '#2626e6'
E4 = 1e-4


def cols(pairs, scale=1.0):
    a = np.asarray(pairs, dtype=float)
    return a[:, 0], a[:, 1] * scale


def bars(rows):
    a = np.asarray([r[:3] for r in rows], dtype=float)
    return a[:, 0], a[:, 1], a[:, 2]


fig = plt.figure(figsize=(W / 100, H / 100), dpi=100, facecolor=BG)


def panel(i):
    top, bot = PANELS[i]
    ax = fig.add_axes([L_PX / W, 1 - bot / H, (R_PX - L_PX) / W, (bot - top) / H])
    ax.set_xlim(XMIN, XMAX)
    return ax


def overlay(ax, ylim):
    tw = ax.twinx()
    tw.set_ylim(*ylim)
    tw.set_yticks([])
    tw.tick_params(right=False, labelright=False)
    for s in tw.spines.values():
        s.set_visible(False)
    ax.set_zorder(tw.get_zorder() + 1)
    ax.patch.set_visible(False)
    tw.patch.set_visible(True)
    tw.patch.set_facecolor('white')
    return tw


def style(ax, ylim, ticks, fmt, title=None, extend_down=0.0):
    ax.set_ylim(*ylim)
    ax.yaxis.tick_right()
    ax.set_yticks(ticks)
    ax.yaxis.set_major_formatter(FuncFormatter(lambda v, p: fmt % v))
    ax.tick_params(axis='y', direction='out', length=3, width=0.8, labelsize=6.5,
                   pad=1, colors='black')
    ax.tick_params(axis='x', bottom=False, labelbottom=False, top=False)
    for s in ax.spines.values():
        s.set_color(SPINE)
        s.set_linewidth(1.4)
    if title:
        ax.annotate(title, (0, 1), xycoords='axes fraction', xytext=(2, -2),
                    textcoords='offset points', ha='left', va='top', fontsize=6.8)
    ax.axvline(RED_MARK_T, ymin=-extend_down, color='#e82020', lw=1.1,
               ls=(0, (2, 2.5)), zorder=1.5, clip_on=False)
    ax.axvline(GREEN_MARK_T, ymin=-extend_down, color='#22cc22', lw=2.0,
               ls=(0, (1.3, 1.3)), zorder=1.5, clip_on=False)


def ref_line(ax, y):
    ax.hlines(y, REF_START_T, REF_END_T, colors=REF_BLUE, lw=1.2,
              linestyles=(0, (1.5, 1.5)), zorder=2)


def tag(ax, y, text, edge, bold=False, yax=None):
    yax = yax or ax
    ax.annotate(text, xy=(1, y), xycoords=(ax.transAxes, yax.transData),
                xytext=(3, 0), textcoords='offset points', ha='left', va='center',
                fontsize=6.3, fontweight='bold' if bold else 'normal', color='black',
                bbox=dict(boxstyle='square,pad=0.12', fc='white', ec=edge, lw=1.0),
                zorder=20, annotation_clip=False)


def date_axis(ax):
    ticks, labels = [], []
    for d in range(4):
        ticks.append(d * BARS_PER_DAY)
        labels.append(DAY_LABELS[d])
        for off, lab in zip(TIME_OFFSETS, TIME_LABELS):
            ticks.append(d * BARS_PER_DAY + off)
            labels.append(lab)
    ticks.append(4 * BARS_PER_DAY)
    labels.append(DAY_LABELS[4])
    ax.set_xticks(ticks)
    ax.set_xticklabels(labels)
    ax.tick_params(axis='x', bottom=True, labelbottom=True, length=0, pad=2,
                   labelsize=6.5)
    for lab in ax.get_xticklabels():
        if lab.get_text().endswith('Sep'):
            lab.set_fontweight('bold')


# ---------------------------------------------------------------- header
renderer = fig.canvas.get_renderer()
HEAD_FONT = ['Liberation Sans', 'DejaVu Sans']


def ftext(x, y, s, **kw):
    return fig.text(x / W, 1 - y / H, s, va='center', **kw)


x = 17
for s, kw, gap in [(r'\$ONE:\$VIX', dict(fontsize=9.5, fontweight='bold'), 5),
                   ('(One/Volatility Index - New Methodology)', dict(fontsize=7.5), 9),
                   ('INDX/INDX', dict(fontsize=7), 0)]:
    t = ftext(x, 11, s, family=HEAD_FONT, **kw)
    x = t.get_window_extent(renderer).x1 + gap
ftext(17, 24, '19-Sep-2012 2:08pm', fontsize=7, family=HEAD_FONT)
ftext(1143, 10, '\u00a9StockCharts.com', fontsize=7.5, ha='right', color='#404040',
      family=HEAD_FONT)
ftext(1135, 24, r'$\bf{Open}$ 0.0723  $\bf{High}$ 0.0723  $\bf{Low}$ 0.0723  '
      r'$\bf{Last}$ 0.0723  $\bf{Chg}$ +0.0018 (+2.53%)', fontsize=6.8, ha='right',
      family=HEAD_FONT)
ftext(1137, 24, '\u25b2', fontsize=5.5, color='#18a018', ha='left')

# ---------------------------------------------------------------- panel 1
ax1 = panel(0)
t, v = cols(DV_DARK)
ax1.fill_between(t, 0, v, color='#f7cfcf', lw=0, zorder=1)
tg, vg = cols(DV_GREY)
ax1.plot(tg, vg, color='#8e8e8e', lw=1.5, zorder=3)
ax1.plot(t, v, color='#2e2255', lw=1.3, zorder=4)
ax1.axhline(DV_REF, color='#e01010', lw=1.2, zorder=3)
ref_line(ax1, DV_LEVEL)
ax1.add_patch(Ellipse((11.8, 0.245), 44.9, 0.44, fill=False, ec='#e01010', lw=1.2,
                      clip_on=False, zorder=5))
for txt, y, c, fs in [('NYDNV/', 1.294, '#e01818', 7.5), ('NYUPV', 0.963, '#e01818', 7.5),
                      ('decliners/', 0.687, '#606060', 7), ('advancers', 0.393, '#606060', 7)]:
    ax1.text(302.8, y, txt, color=c, fontsize=fs, fontweight='bold', va='center', zorder=6)
style(ax1, (0.016, 4.58), [0.5, 1.0, 1.5, 2.0, 2.5, 3.0, 3.5, 4.0, 4.5], '%.1f',
      '\\$NYDNV:\\$NYUPV (5 min)')
tag(ax1, 0.907, '0.70', '#808080', bold=True)
tag(ax1, 0.632, '0.60', '#e01010', bold=True)

# ---------------------------------------------------------------- panel 2
ax2 = panel(1)
bar_colors = {'g': '#1ec81e', 'r': '#f01818', 'b': '#2222ee'}
ts, hs, ls_ = bars(SSO)
ax2.vlines(ts, ls_, hs, colors=[bar_colors[r[3]] for r in SSO], lw=1.5, zorder=3)
for pts, c, lw in [(SSO_MA_LONG, '#9a4de0', 1.3), (SSO_MA_MID, '#ee1c1c', 1.4),
                   (SSO_MA_SHORT, '#12125e', 1.3)]:
    a, b = cols(pts)
    ax2.plot(a, b, color=c, lw=lw, zorder=4)
ref_line(ax2, SSO_LEVEL)
style(ax2, (62.62, 64.31), np.round(np.arange(62.7, 64.25, 0.1), 1), '%.1f', 'SSO (5 min)')
tag(ax2, 63.04, '63.04', '#9a4de0')
tag(ax2, 63.13, '63.13', '#ee1c1c')
tag(ax2, 63.20, '63.20', '#12125e')
tag(ax2, 63.25, '63.25', '#c88ad0', bold=True)

# ---------------------------------------------------------------- panel 3
ax3 = panel(2)
a, b = cols(VIX_BB_MID_E4, E4)
ax3.plot(a, b, color='#555555', lw=0.9, ls=(0, (1, 1.5)), zorder=3)
for pts in (VIX_BB_UP_E4, VIX_BB_LO_E4):
    a, b = cols(pts, E4)
    ax3.plot(a, b, color='#1a1a1a', lw=1.0, zorder=3)
a, b = cols(VIX_MA_E4, E4)
ax3.plot(a, b, color='#f4a0a0', lw=4.0, zorder=3, alpha=0.6)
ax3.plot(a, b, color='#ee2222', lw=2.0, zorder=4)
a, b = cols(VIX_E4, E4)
ax3.plot(a, b, color='#ff33ff', lw=1.4, zorder=5)
ref_line(ax3, VIX_LEVEL)
ax3.add_patch(Ellipse((285.6, 0.07204), 5.9, 0.00063, fc='#22dd55', ec='none', zorder=6))
ax3.annotate('', xy=(297.9, 0.07223), xytext=(320.0, 0.07277),
             arrowprops=dict(arrowstyle='-|>,head_length=0.6,head_width=0.45', color='#44cc33',
                             lw=3.5, mutation_scale=18, shrinkA=0, shrinkB=0),
             annotation_clip=False, zorder=7)
style(ax3, (0.06704, 0.07385), np.round(np.arange(0.0675, 0.07351, 0.0005), 4), '%.4f',
      '\\$ONE:\\$VIX (5 min)', extend_down=15 / 276)
date_axis(ax3)
tag(ax3, 0.07210, '0.0721', '#2222ee')
tag(ax3, 0.07186, '0.0719', '#1a1a1a')
tag(ax3, 0.07233, '0.0723', '#ff33ff', bold=True)
tag(ax3, 0.07262, '0.0726', '#1a1a1a')
tag(ax3, 0.07334, '0.0733', '#1a1a1a')
tag(ax3, 0.07156, '0.0716', '#ee2222')

# ---------------------------------------------------------------- panel 4
ax4 = panel(3)
tw4 = overlay(ax4, (62.61, 64.32))
tw4.vlines(ts, ls_, hs, colors='#b4c0c0', lw=1.3)
tx, hx, lx = bars(XIV)
ax4.vlines(tx, lx, hx, colors='#f01414', lw=1.4, zorder=3)
a, b = cols(XIV_MA)
ax4.plot(a, b, color='#ee1c1c', lw=1.8, zorder=4)
ref_line(ax4, XIV_LEVEL)
ax4.text(21.9, 0.927, 'SSO', transform=ax4.get_xaxis_transform(), fontsize=8.5,
         fontweight='bold', color='#6a6a6a', va='center')
style(ax4, (16.63, 18.28), [16.8, 17.0, 17.2, 17.4, 17.6, 17.8, 18.0, 18.2], '%.1f',
      'XIV (5 min)')
tag(ax4, 63.25, '63.25', '#8a8a8a', bold=True, yax=tw4)
tag(ax4, 17.65, '17.66', '#ee1c1c')
tag(ax4, 17.71, '17.72', '#ee1c1c', bold=True)

# ---------------------------------------------------------------- panel 5
ax5 = panel(4)
tw5 = overlay(ax5, (69.11, 70.596))
tq, hq, lq = bars(QQQ)
tw5.vlines(tq, lq, hq, colors='#a2a2a2', lw=1.2)
a, b = cols(VXN_MA_E4, E4)
ax5.plot(a, b, color='#ee1c1c', lw=1.4, zorder=4)
a, b = cols(VXN_E4, E4)
ax5.plot(a, b, color='#ff2020', lw=1.8, ls=(0, (3.5, 1.5)), zorder=5)
ref_line(ax5, VXN_LEVEL)
ax5.text(32.8, 0.94, 'QQQ', transform=ax5.get_xaxis_transform(), fontsize=8.5,
         fontweight='bold', color='#505050', va='center')
style(ax5, (0.06156, 0.06805), np.round(np.arange(0.0620, 0.06751, 0.0005), 4), '%.4f',
      '\\$ONE:\\$VXN (5 min)')
tag(ax5, 70.42, '70.42', '#1a1a1a', bold=True, yax=tw5)
tag(ax5, 0.06638, '0.0664', '#ee1c1c')
tag(ax5, 0.06774, '0.0677', '#ee1c1c', bold=True)

# ---------------------------------------------------------------- panel 6
ax6 = panel(5)
tw6 = overlay(ax6, (85.265, 87.12))
ti, hi_, li = bars(IWM)
tw6.vlines(ti, li, hi_, colors='#a6a6dc', lw=1.2)
a, b = cols(RVX_MA_E4, E4)
ax6.plot(a, b, color='#ee1c1c', lw=1.4, zorder=4)
a, b = cols(RVX_E4, E4)
ax6.plot(a, b, color='#ff2020', lw=1.8, ls=(0, (3.5, 1.5)), zorder=5)
ref_line(ax6, RVX_LEVEL)
ax6.text(34.8, 0.944, 'IWM', transform=ax6.get_xaxis_transform(), fontsize=8.5,
         fontweight='bold', color='#6a6a6a', va='center')
for head in [(262.9, 0.05642), (287.1, 0.05423)]:
    ax6.annotate('', xy=head, xytext=(315.7, 0.05507),
                 arrowprops=dict(arrowstyle='-|>,head_length=0.6,head_width=0.45',
                                 color='#ee22ee', lw=3.5, mutation_scale=18,
                                 shrinkA=0, shrinkB=0),
                 annotation_clip=False, zorder=7)
style(ax6, (0.05260, 0.05767), np.round(np.arange(0.0530, 0.05751, 0.0005), 4), '%.4f',
      '\\$ONE:\\$RVX (5 min)')
tag(ax6, 85.67, '85.67', '#8a8a8a', bold=True, yax=tw6)
tag(ax6, 0.05649, '0.0565', '#ee1c1c', bold=True)

# ---------------------------------------------------------------- panel 7
ax7 = panel(6)
a, b = cols(VXO_MA_E4, E4)
ax7.plot(a, b, color='#ee1c1c', lw=1.4, zorder=4)
a, b = cols(VXO_E4, E4)
ax7.plot(a, b, color='#ff2020', lw=1.8, ls=(0, (3.5, 1.5)), zorder=5)
ref_line(ax7, VXO_LEVEL)
style(ax7, (0.06829, 0.07864), np.round(np.arange(0.0690, 0.07801, 0.0010), 4), '%.4f',
      '\\$ONE:\\$VXO (5 min)')
tag(ax7, 0.07541, '0.0754', '#ee1c1c')
tag(ax7, 0.07633, '0.0763', '#ee1c1c', bold=True)

# ---------------------------------------------------------------- panel 8
ax8 = panel(7)
ax8.axhline(0.0, color='#e01010', lw=0.9, zorder=2)
ax8.axhline(0.000022, color='#e01010', lw=0.9, zorder=2)
a, b = cols(OSC_SLOW_E4, E4)
ax8.plot(a, b, color='#15158e', lw=1.4, zorder=4)
a, b = cols(OSC_FAST_E4, E4)
ax8.plot(a, b, color='#c8dcb0', lw=3.0, zorder=3)
ax8.plot(a, b, color='#6a6a46', lw=1.4, zorder=4)
for (cx, cy, w, h, c) in [(10.8, 7.93e-4, 13.2, 3.27e-4, '#e01010'),
                          (166.2, 0.06e-4, 8.4, 3.99e-4, '#22cc22'),
                          (193.1, 1.09e-4, 8.1, 3.30e-4, '#e01010'),
                          (276.5, 3.21e-4, 6.6, 2.65e-4, '#e01010')]:
    ax8.add_patch(Ellipse((cx, cy), w, h, fill=False, ec=c, lw=1.5, clip_on=False, zorder=8))
style(ax8, (-2.6e-4, 9.0e-4), [-2e-4, 0.0, 2e-4, 4e-4, 6e-4, 8e-4], '%.4f')
tag(ax8, 2.51e-4, '0.0003', '#15158e')
tag(ax8, 1.54e-4, '0.0002', '#2a7a2a')
tag(ax8, -0.06e-4, '0.0000', '#22aa22')

# ---------------------------------------------------------------- panel 9
ax9 = panel(8)
a, b = cols(MOM)
ax9.fill_between(a, 100, b, where=b >= 100, interpolate=True, color='#7ca6ec', lw=0, zorder=2)
ax9.axhline(100, color='black', lw=1.3, zorder=3)
ax9.axhline(-100, color='black', lw=1.3, zorder=3)
ax9.axhline(0, color='black', lw=1.0, ls=(0, (5, 2, 1, 2)), zorder=3)
a2, b2 = cols(MOM_SIG)
ax9.plot(a2, b2, color='#f01010', lw=1.2, zorder=4)
ax9.plot(a, b, color='#1a2a80', lw=1.0, zorder=5)
style(ax9, (-132, 313), [-100, 0, 200], '%d')
ax9.spines['bottom'].set_visible(False)
date_axis(ax9)
tag(ax9, 110.3, '110.30', '#ee1c1c')
tag(ax9, 98.65, '98.65', '#1a2a80')

fig.savefig('out.png', dpi=100, facecolor=BG)
